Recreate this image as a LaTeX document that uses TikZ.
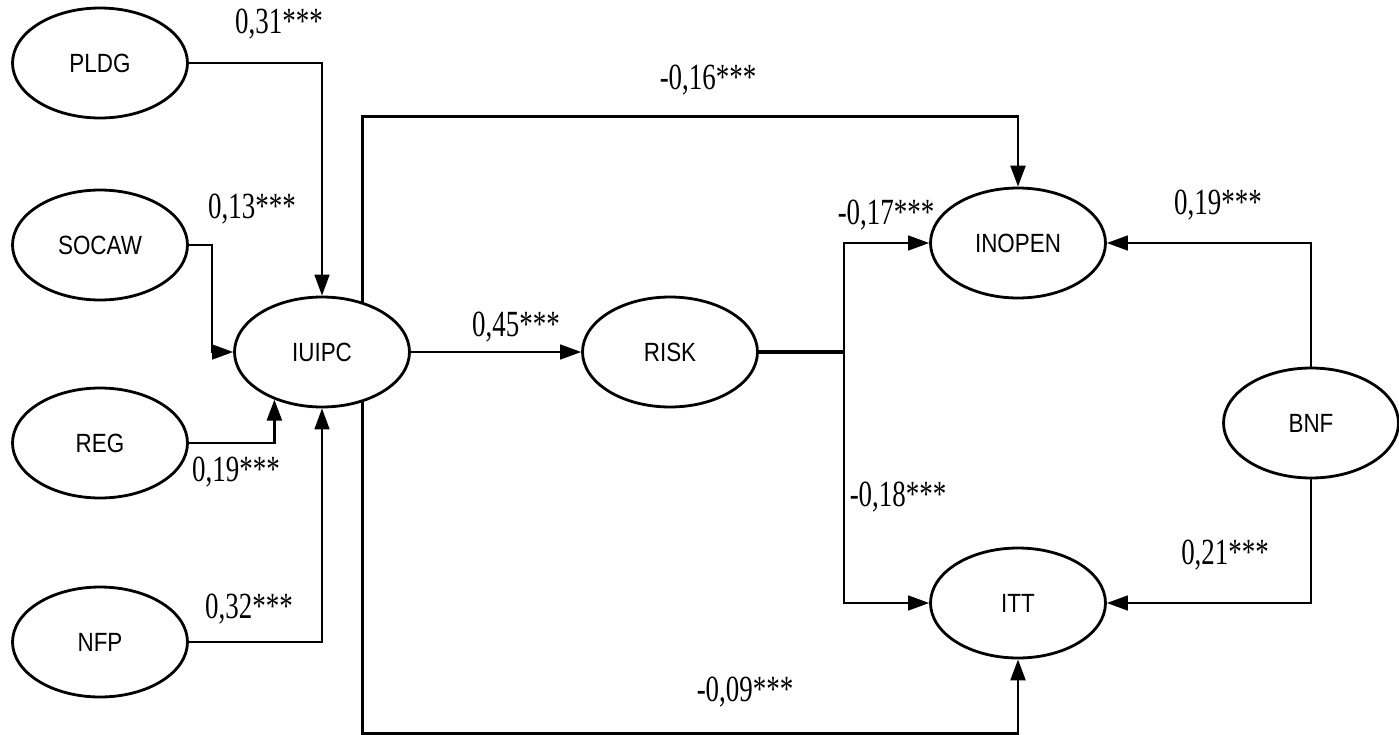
\documentclass[tikz,border=0pt]{standalone}
\usepackage{fontspec}
\setmainfont{Liberation Serif}
\newfontfamily\coeffont[FakeStretch=0.73]{Liberation Serif}
\newfontfamily\varfont[FakeStretch=0.85]{Liberation Sans}
\usetikzlibrary{shapes.geometric,arrows.meta}

\tikzset{
  var/.style={ellipse,draw,line width=1.6pt,minimum width=3.5cm,minimum height=2.2cm,inner sep=0pt,
    font=\varfont\fontsize{15}{17}\selectfont},
  link/.style={line width=1.1pt,-{Triangle[length=12pt,width=8.5pt]}},
  coef/.style={inner sep=0pt,font=\coeffont\fontsize{21}{24}\selectfont}
}

\begin{document}
\begin{tikzpicture}[x=0.02cm,y=-0.02cm]
      \useasboundingbox (0,0) rectangle (1399,734);

      % latent variables
      \node[var] (pldg) at (100,63) {PLDG};
      \node[var] (socaw) at (100,245) {SOCAW};
      \node[var] (reg) at (100,443) {REG};
      \node[var] (nfp) at (100,642) {NFP};
      \node[var] (iuipc) at (322,352) {IUIPC};
      \node[var] (risk) at (670,352) {RISK};
      \node[var] (inopen) at (1018,243) {INOPEN};
      \node[var] (itt) at (1018,603) {ITT};
      \node[var] (bnf) at (1311,423) {BNF};

      % paths
      \draw[link] (pldg.east) -| (iuipc.north);
      \draw[link] (socaw.east) -- ++(23,0) |- (iuipc.west);
      \draw[link,line width=1.6pt] (reg.east) -| (iuipc.-135);
      \draw[link] (nfp.east) -| (iuipc.south);
      \draw[link] (iuipc.east) -- (risk.west);
      \draw[link,line width=1.6pt] (iuipc.51) -- ++(0,-185) -| (inopen.north);
      \draw[link,line width=1.6pt] (iuipc.-51) -- ++(0,331) -| (itt.south);
      \draw[line width=2.4pt] (risk.east) -- ++(85,0) coordinate (split);
      \draw[link] (split) |- (inopen.west);
      \draw[link] (split) |- (itt.west);
      \draw[link] (bnf.north) |- (inopen.east);
      \draw[link] (bnf.south) |- (itt.east);

      % coefficients
      \node[coef] (c1) at (279,24) {0,31***};
      \node[coef] (c2) at (252,209) {0,13***};
      \node[coef] (c3) at (236,472) {0,19***};
      \node[coef] (c4) at (249,609) {0,32***};
      \node[coef] (c5) at (708,80) {-0,16***};
      \node[coef] (c6) at (516,327) {0,45***};
      \node[coef] (c7) at (886,215) {-0,17***};
      \node[coef] (c8) at (1218,205) {0,19***};
      \node[coef] (c9) at (898,497) {-0,18***};
      \node[coef] (c10) at (1225,555) {0,21***};
      \node[coef] (c11) at (745,692) {-0,09***};
    \end{tikzpicture}
\end{document}
